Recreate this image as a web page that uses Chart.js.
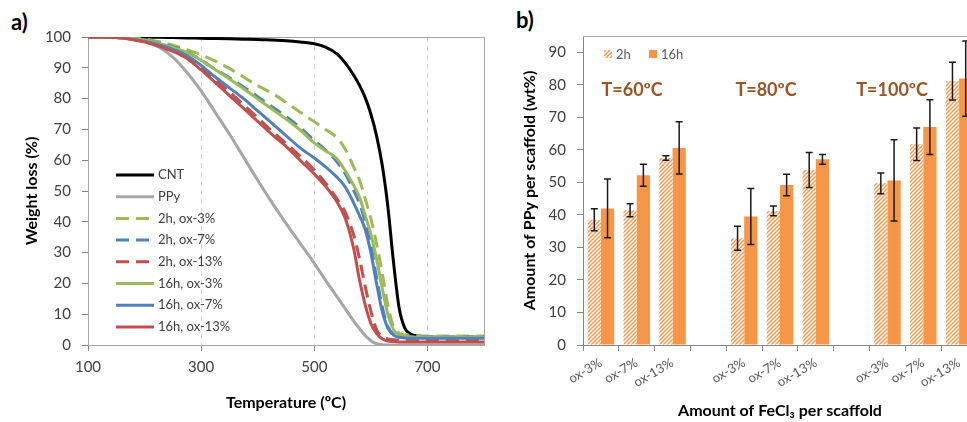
<!DOCTYPE html>
<html>
<head>
<meta charset="utf-8">
<script src="https://cdn.jsdelivr.net/npm/chart.js@4.4.1/dist/chart.umd.min.js"></script>
<style>
    html, body { margin: 0; padding: 0; background: #fff; }
    body { width: 967px; height: 422px; overflow: hidden; position: relative; }
    #tgaChart { position: absolute; left: 0; top: 0; }
    #ppyChart { position: absolute; left: 500px; top: 0; }
    .panel-tag { position: absolute; font: bold 22px Lato, "DejaVu Sans", sans-serif; color: #000; }
</style>
</head>
<body>
<div class="panel-tag" style="left:11px;top:8px">a)</div>
<div class="panel-tag" style="left:516px;top:6px">b)</div>
<canvas id="tgaChart" width="500" height="422" style="width:500px;height:422px"></canvas>
<canvas id="ppyChart" width="500" height="422" style="width:500px;height:422px"></canvas>
<script>
// ---- a) TGA curves ----
var tempGrid = [100, 150, 200, 225, 250, 275, 300, 325, 350, 375, 400, 425, 450, 475, 500, 520, 540, 555, 570, 580, 590, 600, 610, 620, 630, 640, 650, 660, 670, 685, 700, 750, 800];
var cnt      = [100, 100, 99.9, 99.9, 99.8, 99.7, 99.6, 99.5, 99.4, 99.3, 99.2, 99.0, 98.8, 98.4, 97.8, 96.7, 94.5, 91.5, 87.5, 84.3, 80.3, 75, 68, 58.5, 45, 27, 12, 5.5, 3.6, 2.9, 2.6, 2.5, 2.5];
var ppy      = [100, 99.9, 98.8, 96.8, 93.5, 88.5, 82.5, 75.5, 68.5, 61, 53.5, 46.3, 39.5, 33, 26.5, 21, 15.7, 11.7, 7.7, 5.3, 3.1, 1.4, 0.4, 0.05, 0, 0, 0, 0, 0, 0, 0, 0, 0];
var h2ox3    = [100, 99.9, 99.3, 98.5, 97.3, 95.9, 94.2, 92.2, 89.8, 87, 84.2, 81.8, 78.8, 75.6, 72.5, 70, 67.3, 63.5, 57.7, 53.5, 47.5, 41, 33, 23.5, 13, 6, 3.8, 3.3, 3.1, 3, 2.9, 2.9, 2.9];
var h2ox7    = [100, 99.9, 99, 98.1, 96.8, 95.2, 92.5, 89.5, 86.8, 83.8, 80.6, 77.4, 74.2, 70.6, 66.4, 63.3, 59.5, 55.5, 50, 46, 40, 32.5, 22, 12.5, 6, 3.5, 2.9, 2.7, 2.6, 2.6, 2.6, 2.6, 2.6];
var h2ox13   = [100, 99.8, 98.5, 97.3, 95.7, 93.4, 90, 86.1, 82.2, 78, 73.8, 69.5, 65.5, 61.3, 56.8, 52.5, 47.5, 43, 35.5, 28, 19, 11, 5, 2.7, 2, 1.7, 1.6, 1.6, 1.6, 1.6, 1.6, 1.6, 1.6];
var h16ox3   = [100, 99.9, 99, 98, 96.6, 95, 92.4, 89.4, 86.4, 83.2, 79.9, 76.6, 73.4, 69.8, 65.6, 63, 60.5, 56.5, 51.7, 48, 42, 36, 28, 18.5, 10, 5, 3.3, 2.8, 2.6, 2.5, 2.5, 2.5, 2.5];
var h16ox7   = [100, 99.8, 98.6, 97.5, 96, 94, 90.8, 87, 83.5, 80, 76, 72, 68, 64, 60.7, 57.8, 54.5, 51.2, 46, 42, 37.5, 30, 20, 11, 5.5, 3.2, 2.5, 2.3, 2.2, 2.2, 2.2, 2.2, 2.2];
var h16ox13  = [100, 99.8, 98.4, 97, 95.3, 93, 89.3, 85.2, 81, 76.8, 72.6, 68.4, 64.5, 60, 55.5, 51.5, 46.5, 41, 31, 21, 13, 7, 3.8, 2, 1.3, 1.1, 1, 1, 1, 1, 1, 1, 1];
var tempTicks = [100, 300, 500, 700];
var weightTicks = [0, 10, 20, 30, 40, 50, 60, 70, 80, 90, 100];

// ---- b) PPy loading ----
var oxLabels  = ['ox-3%', 'ox-7%', 'ox-13%', '', 'ox-3%', 'ox-7%', 'ox-13%', '', 'ox-3%', 'ox-7%', 'ox-13%'];
var ppy2h     = [38.5, 41.4, 57.5, null, 32.8, 41.2, 53.8, null, 49.7, 61.7, 81.1];
var ppy2hErr  = [3.4, 2, 0.7, null, 3.7, 1.5, 5.4, null, 3.2, 5, 5.8];
var ppy16h    = [42, 52.2, 60.6, null, 39.5, 49.2, 57.1, null, 50.6, 67, 81.9];
var ppy16hErr = [9, 3.4, 8, null, 8.6, 3.3, 1.5, null, 12.5, 8.4, 11.6];
var ppyTicks  = [0, 10, 20, 30, 40, 50, 60, 70, 80, 90];
var tempNotes = ['T=60ºC', 'T=80ºC', 'T=100ºC'];

var FONT = 'Lato, "DejaVu Sans", sans-serif';
var AXIS = '#868686';
var TICK_TEXT = '#404040';
var ORANGE = '#F79646';

Chart.defaults.font.family = FONT;
Chart.defaults.color = TICK_TEXT;
Chart.defaults.animation = false;

function toPoints(vals) {
    return tempGrid.map(function(t, i) { return { x: t, y: vals[i] }; });
}

function fixTicks(list) {
    return function(scale) { scale.ticks = list.map(function(v) { return { value: v }; }); };
}

// plot area frame (Excel style)
var frame = {
    id: 'frame',
    beforeDatasetsDraw: function(chart) {
        var a = chart.chartArea, ctx = chart.ctx;
        ctx.save();
        ctx.strokeStyle = '#A6A6A6';
        ctx.lineWidth = 1;
        ctx.strokeRect(a.left + 0.5, a.top + 0.5, a.right - a.left, a.bottom - a.top);
        ctx.restore();
    }
};

// legend drawn inside the plot area, left side
var lineKey = {
    id: 'lineKey',
    afterDraw: function(chart) {
        var ctx = chart.ctx, a = chart.chartArea;
        var x0 = a.left + 28, y0 = a.top + 138, step = 21.7;
        ctx.save();
        ctx.font = '13px ' + FONT;
        ctx.textBaseline = 'middle';
        chart.data.datasets.forEach(function(ds, i) {
            var y = y0 + i * step;
            ctx.strokeStyle = ds.borderColor;
            ctx.lineWidth = ds.borderWidth;
            ctx.setLineDash(ds.borderDash || []);
            ctx.beginPath();
            ctx.moveTo(x0, y);
            ctx.lineTo(x0 + 38, y);
            ctx.stroke();
            ctx.setLineDash([]);
            ctx.fillStyle = TICK_TEXT;
            ctx.fillText(ds.label, x0 + 42, y);
        });
        ctx.restore();
    }
};

var tgaSeries = [
    { label: 'CNT',          values: cnt,     color: '#000000', dash: [] },
    { label: 'PPy',          values: ppy,     color: '#A6A6A6', dash: [] },
    { label: '2h, ox-3%',    values: h2ox3,   color: '#9BBB59', dash: [13, 7] },
    { label: '2h, ox-7%',    values: h2ox7,   color: '#4F81BD', dash: [13, 7] },
    { label: '2h, ox-13%',   values: h2ox13,  color: '#C0504D', dash: [13, 7] },
    { label: '16h, ox-3%',   values: h16ox3,  color: '#9BBB59', dash: [] },
    { label: '16h, ox-7%',   values: h16ox7,  color: '#4F81BD', dash: [] },
    { label: '16h, ox-13%',  values: h16ox13, color: '#C0504D', dash: [] }
];

new Chart(document.getElementById('tgaChart'), {
    type: 'line',
    data: {
        datasets: tgaSeries.map(function(s, i) {
            return {
                label: s.label,
                data: toPoints(s.values),
                borderColor: s.color,
                borderWidth: 3,
                borderDash: s.dash,
                pointRadius: 0,
                fill: false,
                cubicInterpolationMode: 'monotone',
                order: tgaSeries.length - i
            };
        })
    },
    options: {
        responsive: false,
        layout: { padding: { left: 22, top: 37, right: 16, bottom: 10 } },
        plugins: { legend: { display: false }, tooltip: { enabled: false } },
        scales: {
            x: {
                type: 'linear',
                min: 100,
                max: 800,
                afterBuildTicks: fixTicks(tempTicks),
                afterFit: function(s) { s.height = 67; },
                grid: {
                    color: function(c) { return c.tick && c.tick.value === 100 ? 'rgba(0,0,0,0)' : '#D4D4D4'; },
                    tickColor: AXIS,
                    tickLength: 6
                },
                border: { color: AXIS, dash: [5, 4] },
                ticks: { font: { size: 15 }, padding: 7, maxRotation: 0 },
                title: { display: true, text: 'Temperature (ºC)', color: '#000', font: { size: 16, weight: 'bold' }, padding: 0 }
            },
            y: {
                min: 0,
                max: 100,
                afterBuildTicks: fixTicks(weightTicks),
                afterFit: function(s) { s.width = 66; },
                grid: { drawOnChartArea: false, tickColor: AXIS, tickLength: 6 },
                border: { color: AXIS },
                ticks: { font: { size: 15 }, padding: 11 },
                title: { display: true, text: 'Weight loss (%)', color: '#000', font: { size: 16, weight: 'bold' }, padding: 0 }
            }
        }
    },
    plugins: [frame, lineKey]
});

// ---- b) bars ----
var ppyCanvas = document.getElementById('ppyChart');

function makeHatch(ctx, color) {
    var c = document.createElement('canvas');
    c.width = 4; c.height = 4;
    var g = c.getContext('2d');
    g.fillStyle = '#ffffff';
    g.fillRect(0, 0, 4, 4);
    g.strokeStyle = color;
    g.lineWidth = 1.3;
    g.beginPath();
    g.moveTo(0, 4); g.lineTo(4, 0);
    g.moveTo(-1, 1); g.lineTo(1, -1);
    g.moveTo(3, 5); g.lineTo(5, 3);
    g.stroke();
    return ctx.createPattern(c, 'repeat');
}
var hatch = makeHatch(ppyCanvas.getContext('2d'), ORANGE);

var errorBars = {
    id: 'errorBars',
    afterDatasetsDraw: function(chart) {
        var ctx = chart.ctx, ys = chart.scales.y;
        ctx.save();
        ctx.strokeStyle = '#1a1a1a';
        ctx.lineWidth = 1.5;
        chart.data.datasets.forEach(function(ds, di) {
            var meta = chart.getDatasetMeta(di);
            meta.data.forEach(function(bar, i) {
                var v = ds.data[i], e = ds.errors[i];
                if (v == null || e == null) return;
                var top = ys.getPixelForValue(v + e), bot = ys.getPixelForValue(v - e);
                ctx.beginPath();
                ctx.moveTo(bar.x, top); ctx.lineTo(bar.x, bot);
                ctx.moveTo(bar.x - 3.5, top); ctx.lineTo(bar.x + 3.5, top);
                ctx.moveTo(bar.x - 3.5, bot); ctx.lineTo(bar.x + 3.5, bot);
                ctx.stroke();
            });
        });
        ctx.restore();
    }
};

// temperature notes, centred at a fractional category position
var notePos = [0.87, 4.61, 8.13];
var noteLevel = 78.3;
var tempLabels = {
    id: 'tempLabels',
    afterDatasetsDraw: function(chart) {
        var xs = chart.scales.x, ys = chart.scales.y, ctx = chart.ctx;
        var step = xs.getPixelForValue(1) - xs.getPixelForValue(0);
        ctx.save();
        ctx.font = 'bold 18px ' + FONT;
        ctx.fillStyle = '#9C5425';
        ctx.textAlign = 'center';
        ctx.textBaseline = 'middle';
        tempNotes.forEach(function(t, i) {
            ctx.fillText(t, xs.getPixelForValue(0) + notePos[i] * step, ys.getPixelForValue(noteLevel));
        });
        ctx.restore();
    }
};

var barKey = {
    id: 'barKey',
    afterDraw: function(chart) {
        var ctx = chart.ctx, a = chart.chartArea;
        var x = a.left + 21, y = a.top + 14;
        ctx.save();
        ctx.font = '13px ' + FONT;
        ctx.textBaseline = 'middle';
        chart.data.datasets.forEach(function(ds, i) {
            var mx = x + i * 45;
            ctx.fillStyle = ds.backgroundColor;
            ctx.fillRect(mx, y, 8, 8);
            ctx.fillStyle = '#595959';
            ctx.fillText(ds.label, mx + 12, y + 4.5);
        });
        ctx.restore();
    }
};

var topLine = {
    id: 'topLine',
    beforeDatasetsDraw: function(chart) {
        var a = chart.chartArea, ctx = chart.ctx;
        ctx.save();
        ctx.strokeStyle = '#A6A6A6';
        ctx.lineWidth = 1;
        ctx.beginPath();
        ctx.moveTo(a.left, a.top + 0.5);
        ctx.lineTo(a.right, a.top + 0.5);
        ctx.stroke();
        ctx.restore();
    }
};

new Chart(ppyCanvas, {
    type: 'bar',
    data: {
        labels: oxLabels,
        datasets: [
            { label: '2h', data: ppy2h, errors: ppy2hErr, backgroundColor: hatch, borderWidth: 0 },
            { label: '16h', data: ppy16h, errors: ppy16hErr, backgroundColor: ORANGE, borderWidth: 0 }
        ]
    },
    options: {
        responsive: false,
        layout: { padding: { left: 20, top: 36, right: 23, bottom: 2 } },
        datasets: { bar: { categoryPercentage: 0.74, barPercentage: 1 } },
        plugins: { legend: { display: false }, tooltip: { enabled: false } },
        scales: {
            x: {
                afterFit: function(s) { s.height = 75; },
                grid: { drawOnChartArea: false, offset: true, tickColor: AXIS, tickLength: 6 },
                border: { color: AXIS },
                ticks: { font: { size: 13 }, color: '#595959', autoSkip: false, minRotation: 30, maxRotation: 30, padding: 4 },
                title: { display: true, text: 'Amount of FeCl₃ per scaffold', color: '#000', font: { size: 16, weight: 'bold' }, padding: 0 }
            },
            y: {
                min: 0,
                max: 95,
                afterBuildTicks: fixTicks(ppyTicks),
                afterFit: function(s) { s.width = 63; },
                grid: { drawOnChartArea: false, tickColor: AXIS, tickLength: 6 },
                border: { color: AXIS },
                ticks: { font: { size: 15 }, padding: 11 },
                title: { display: true, text: 'Amount of PPy per scaffold (wt%)', color: '#000', font: { size: 16, weight: 'bold' }, padding: 0 }
            }
        }
    },
    plugins: [topLine, errorBars, tempLabels, barKey]
});
</script>
</body>
</html>
